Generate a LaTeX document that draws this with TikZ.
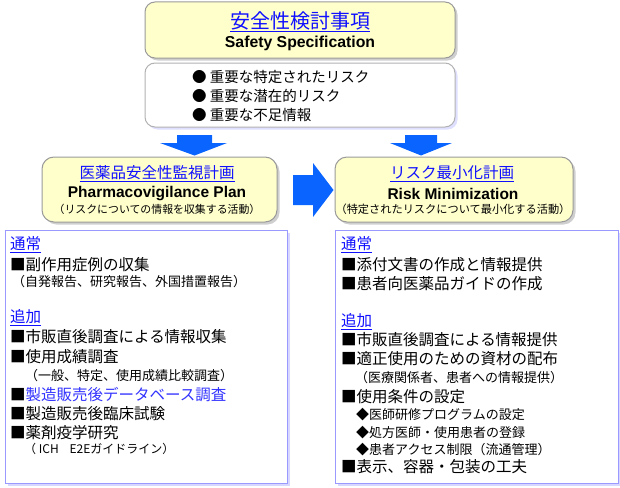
\documentclass[tikz,border=0pt]{standalone}
\usepackage{fontspec}
\setmainfont{Noto Sans CJK JP}
\newfontfamily\latf{Liberation Sans}
\usetikzlibrary{shadows}
\definecolor{yfill}{HTML}{FFFFCC}
\definecolor{boxgray}{HTML}{9A9A9A}
\definecolor{bluebd}{HTML}{9999FF}
\definecolor{bluesh}{HTML}{B0B0FF}
\definecolor{titleblue}{HTML}{1010FF}
\definecolor{dbblue}{HTML}{3333FF}
\definecolor{arrowblue}{HTML}{0A64FF}
\newcommand\mysize[1]{\fontsize{#1}{#1}\selectfont}
\begin{document}
\begin{tikzpicture}[x=1pt,y=-1pt,
  ybox/.style={draw=boxgray, line width=1pt, fill=yfill, rounded corners=10pt, inner sep=0pt,
    drop shadow={shadow xshift=2.5pt, shadow yshift=-2.5pt, fill=gray!75}},
  wbox/.style={draw=gray!60, line width=1pt, fill=white, rounded corners=10pt, inner sep=0pt,
    drop shadow={shadow xshift=2.5pt, shadow yshift=-2.5pt, fill=blue!25}},
  bbox/.style={draw=bluebd, line width=1pt, fill=white, inner sep=0pt,
    drop shadow={shadow xshift=2.5pt, shadow yshift=-2.5pt, fill=bluesh}},
  txt/.style={anchor=west, inner sep=0pt, font=\mysize{15.5}},
  sub/.style={anchor=west, inner sep=0pt, font=\mysize{13}},
  ctr/.style={anchor=center, inner sep=0pt},
  head/.style={anchor=west, inner sep=0pt, font=\mysize{15.5}, text=titleblue},
  blockarrow/.style={fill=arrowblue}]
\useasboundingbox (0,0) rectangle (620,487);

% boxes
\node[ybox, minimum width=310pt, minimum height=56pt] (spec) at (300,30) {};
\node[wbox, minimum width=310pt, minimum height=64pt] (risks) at (300,95) {};
\node[ybox, rounded corners=12pt, minimum width=235pt, minimum height=65pt] (pv) at (159.5,189.5) {};
\node[ybox, rounded corners=12pt, minimum width=238pt, minimum height=65pt] (rm) at (454,189.5) {};
\node[bbox, minimum width=282pt, minimum height=253pt] (pvlist) at (146,356.5) {};
\node[bbox, minimum width=283pt, minimum height=253pt] (rmlist) at (476.5,356.5) {};

% arrows
\fill[blockarrow] (177,135) -- (212,135) -- (212,143) -- (227,143) -- (194.5,155.5) -- (160,143) -- (177,143) -- cycle;
\fill[blockarrow] (405,135) -- (437,135) -- (437,143) -- (452,143) -- (421,155.5) -- (390,143) -- (405,143) -- cycle;
\fill[blockarrow] (293,175) -- (313,175) -- (313,163) -- (333.5,190) -- (313,217) -- (313,205) -- (293,205) -- cycle;

% top box texts
\node[ctr, font=\mysize{20}, text=titleblue] (t1) at (300,22) {\underline{安全性検討事項}};
\node[ctr, font=\latf\bfseries\mysize{15.8}] (t2) at (300,43) {Safety Specification};

\node[anchor=west, inner sep=0pt, font=\mysize{14.5}] (b1) at (192,77) {● 重要な特定されたリスク};
\node[anchor=west, inner sep=0pt, font=\mysize{14.5}] (b2) at (192,96) {● 重要な潜在的リスク};
\node[anchor=west, inner sep=0pt, font=\mysize{14.5}] (b3) at (192,115) {● 重要な不足情報};

% middle boxes texts
\node[ctr, font=\mysize{15.5}, text=titleblue] (p1) at (157,174) {\underline{医薬品安全性監視計画}};
\node[ctr, font=\latf\bfseries\mysize{15.5}] (p2) at (157,193.5) {Pharmacovigilance Plan};
\node[ctr, font=\mysize{10.9}] (p3) at (157,209) {（リスクについての情報を収集する活動）};

\node[ctr, font=\mysize{15.5}, text=titleblue] (r1) at (452,174) {\underline{リスク最小化計画}};
\node[ctr, font=\latf\bfseries\mysize{15.5}] (r2) at (453,193.5) {Risk Minimization};
\node[ctr, font=\mysize{11.2}] (r3) at (453,209) {（特定されたリスクについて最小化する活動）};

% left list
\node[head] (l1) at (10,245) {\underline{通常}};
\node[txt] (l2) at (10,265) {■副作用症例の収集};
\node[sub] (l3) at (12,282) {（自発報告、研究報告、外国措置報告）};
\node[head] (l4) at (10,318) {\underline{追加}};
\node[txt] (l5) at (10,337) {■市販直後調査による情報収集};
\node[txt] (l6) at (10,357) {■使用成績調査};
\node[sub] (l7) at (25,376) {（一般、特定、使用成績比較調査）};
\node[txt] (l8) at (10,395) {■\textcolor{dbblue}{製造販売後データベース調査}};
\node[txt] (l9) at (10,414) {■製造販売後臨床試験};
\node[txt] (l10) at (10,433) {■薬剤疫学研究};
\node[anchor=west, inner sep=0pt, font=\mysize{12}] (l11) at (24,449) {（ ICH\hspace{0.9em}E2Eガイドライン）};

% right list
\node[head] (m1) at (341,245) {\underline{通常}};
\node[txt] (m2) at (341,265) {■添付文書の作成と情報提供};
\node[txt] (m3) at (341,284) {■患者向医薬品ガイドの作成};
\node[head] (m4) at (341,322) {\underline{追加}};
\node[txt] (m5) at (341,340) {■市販直後調査による情報提供};
\node[txt] (m6) at (341,359) {■適正使用のための資材の配布};
\node[sub] (m7) at (355,378) {（医療関係者、患者への情報提供）};
\node[txt] (m8) at (341,397) {■使用条件の設定};
\node[sub] (m9) at (356,415) {◆医師研修プログラムの設定};
\node[sub] (m10) at (356,433) {◆処方医師・使用患者の登録};
\node[sub] (m11) at (356,450) {◆患者アクセス制限（流通管理）};
\node[txt] (m12) at (341,467) {■表示、容器・包装の工夫};
\end{tikzpicture}
\end{document}
